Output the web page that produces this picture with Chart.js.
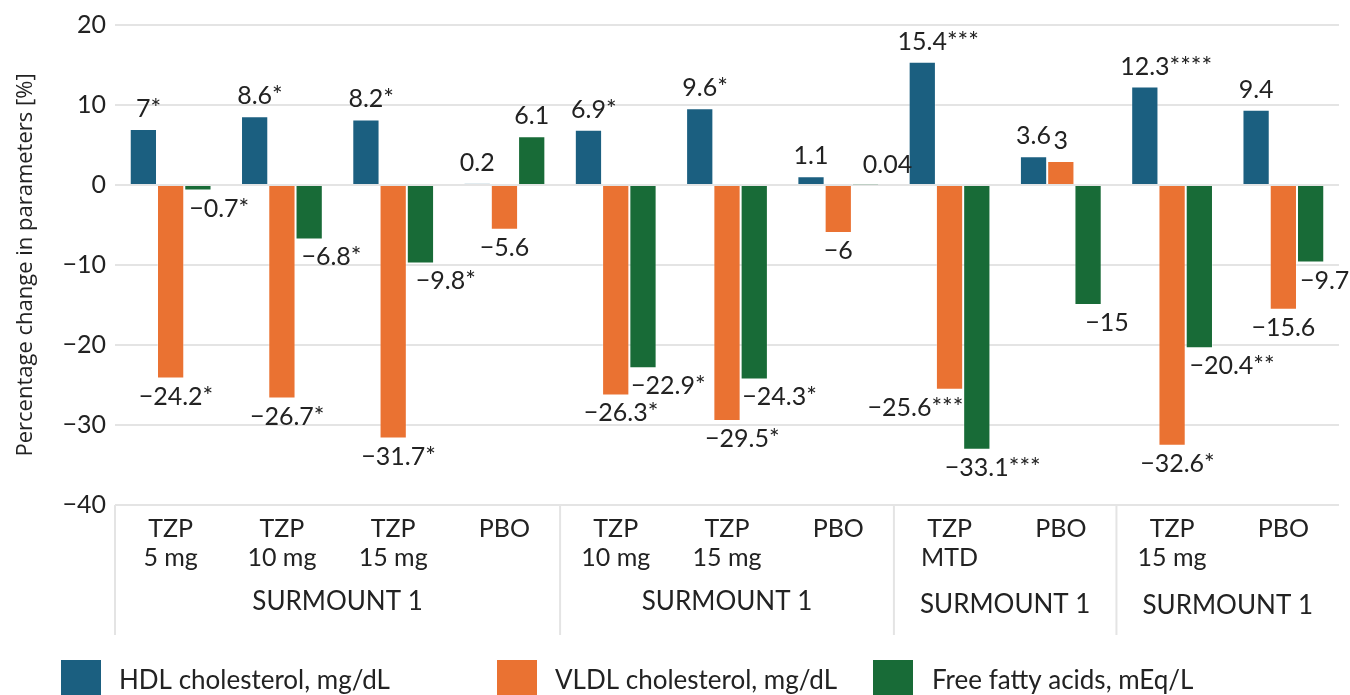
<!DOCTYPE html>
<html>
<head>
<meta charset="utf-8">
<script src="https://cdn.jsdelivr.net/npm/chart.js@4.4.1/dist/chart.umd.min.js"></script>
<style>
  html, body { margin: 0; padding: 0; background: #fff; }
</style>
</head>
<body>
<canvas id="chart" width="1350" height="695"></canvas>
<script>
// categories (two-line tick labels) and the study groups under them
const categories = [
    ['TZP', '5 mg'], ['TZP', '10 mg'], ['TZP', '15 mg'], ['PBO'],
    ['TZP', '10 mg'], ['TZP', '15 mg'], ['PBO'],
    ['TZP', 'MTD'], ['PBO'],
    ['TZP', '15 mg'], ['PBO']
];
const groupNames = ['SURMOUNT 1', 'SURMOUNT 1', 'SURMOUNT 1', 'SURMOUNT 1'];
const groupSizes = [4, 3, 2, 2];

const seriesNames = ['HDL cholesterol, mg/dL', 'VLDL cholesterol, mg/dL', 'Free fatty acids, mEq/L'];
const hdl  = [7, 8.6, 8.2, 0.2, 6.9, 9.6, 1.1, 15.4, 3.6, 12.3, 9.4];
const vldl = [-24.2, -26.7, -31.7, -5.6, -26.3, -29.5, -6, -25.6, 3, -32.6, -15.6];
const ffa  = [-0.7, -6.8, -9.8, 6.1, -22.9, -24.3, 0.04, -33.1, -15, -20.4, -9.7];

// significance marks printed after each value
const hdlSig  = ['*', '*', '*', '', '*', '*', '', '***', '', '****', ''];
const vldlSig = ['*', '*', '*', '', '*', '*', '', '***', '', '*', ''];
const ffaSig  = ['*', '*', '*', '', '*', '*', '', '***', '', '**', ''];

const yMin = -40, yMax = 20, yStep = 10;

// look
const colors = ['#1b5f80', '#ea7232', '#186b37'];
const textColor = '#222222';
const gridColor = '#e4e4e4';
const labelShift = [
    [0, 0, 0, 0, 0, 0, 0, 0, 0, 0, 0],
    [0, 0, 0, 0, 0, 10, 0, -50, 0, 0, 0],
    [16, 17, 20, 0, 20, 20, 22, 0, 19, 22, 14]
];
const legendPos = [[61, 119], [497, 555], [873, 932]];

const sigs = [hdlSig, vldlSig, ffaSig];
const fmt = v => (v < 0 ? '\u2212' + Math.abs(v) : String(v));

// value labels on the bars
const valueLabels = {
    id: 'valueLabels',
    afterDatasetsDraw(chart) {
        const ctx = chart.ctx;
        ctx.save();
        ctx.font = '25px Lato';
        ctx.fillStyle = textColor;
        ctx.textAlign = 'left';
        ctx.textBaseline = 'alphabetic';
        chart.data.datasets.forEach((ds, di) => {
            chart.getDatasetMeta(di).data.forEach((bar, i) => {
                const v = ds.data[i];
                const num = fmt(v);
                const w = ctx.measureText(num).width;
                const x = bar.x + labelShift[di][i] - w / 2;
                const y = v >= 0 ? bar.y - 12 : bar.y + 26;
                ctx.fillText(num + sigs[di][i], x, y);
            });
        });
        ctx.restore();
    }
};

// group separators, group names and the legend
const extras = {
    id: 'extras',
    afterDraw(chart) {
        const ctx = chart.ctx;
        const area = chart.chartArea;
        const xs = chart.scales.x;
        const catW = (area.right - area.left) / categories.length;
        ctx.save();

        ctx.strokeStyle = gridColor;
        ctx.lineWidth = 2;
        ctx.font = '26px Lato';
        ctx.fillStyle = textColor;
        ctx.textAlign = 'center';
        let start = 0;
        groupSizes.forEach((n, g) => {
            const x0 = xs.getPixelForValue(start) - catW / 2;
            const x1 = xs.getPixelForValue(start + n - 1) + catW / 2;
            ctx.beginPath();
            ctx.moveTo(x0, area.bottom);
            ctx.lineTo(x0, 635);
            ctx.stroke();
            ctx.fillText(groupNames[g], (x0 + x1) / 2, 610 + (g > 1 ? g + 1 : 0));
            start += n;
        });

        ctx.textAlign = 'left';
        seriesNames.forEach((name, i) => {
            ctx.fillStyle = colors[i];
            ctx.fillRect(legendPos[i][0], 660, 40, 36);
            ctx.fillStyle = textColor;
            ctx.fillText(name, legendPos[i][1], 689);
        });
        ctx.restore();
    }
};

const ctx = document.getElementById('chart').getContext('2d');
new Chart(ctx, {
    type: 'bar',
    data: {
        labels: categories,
        datasets: [hdl, vldl, ffa].map((d, i) => ({
            label: seriesNames[i],
            data: d,
            backgroundColor: colors[i],
            borderColor: 'rgba(255,255,255,0.35)',
            borderWidth: 1,
            barPercentage: 1,
            categoryPercentage: 0.735
        }))
    },
    options: {
        responsive: false,
        animation: false,
        devicePixelRatio: 1,
        layout: { padding: { top: 25, right: 11, left: 0, bottom: 0 } },
        plugins: {
            legend: { display: false },
            tooltip: { enabled: false }
        },
        scales: {
            x: {
                grid: { display: false },
                border: { display: false },
                ticks: {
                    color: textColor,
                    font: { family: 'Lato', size: 25, lineHeight: 1.15 },
                    padding: 2,
                    maxRotation: 0,
                    autoSkip: false
                },
                afterFit(s) { s.height = 190; }
            },
            y: {
                min: yMin,
                max: yMax,
                grid: { color: gridColor, lineWidth: 2, drawTicks: false },
                border: { display: false },
                ticks: {
                    stepSize: yStep,
                    color: textColor,
                    font: { family: 'Lato', size: 25 },
                    padding: 9,
                    callback: v => fmt(v)
                },
                title: {
                    display: true,
                    text: 'Percentage change in parameters [%]',
                    color: textColor,
                    font: { family: 'Open Sans', size: 22 },
                    padding: { top: 13, bottom: 0 }
                },
                afterFit(s) { s.width = 115; }
            }
        }
    },
    plugins: [valueLabels, extras]
});
</script>
</body>
</html>
